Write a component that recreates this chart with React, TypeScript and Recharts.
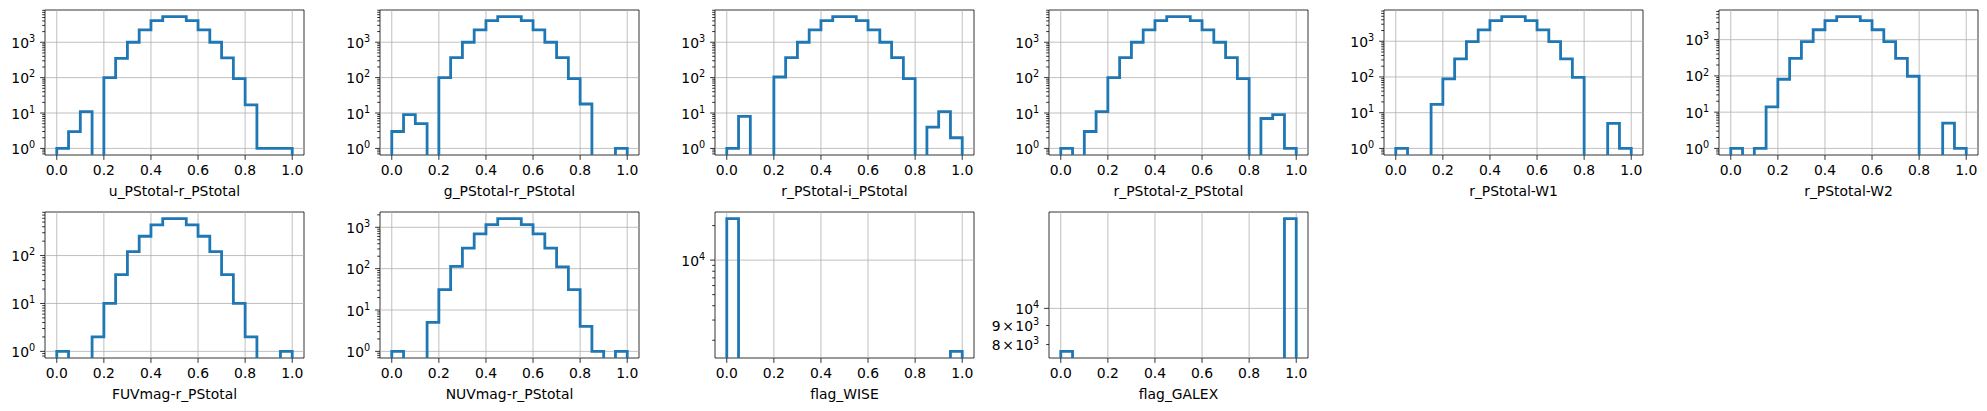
import React from 'react';
import { ComposedChart, Line, XAxis, YAxis, ReferenceLine, ReferenceArea } from 'recharts';

// ---------- data ----------
const BIN_EDGES = [0, 0.05, 0.1, 0.15, 0.2, 0.25, 0.3, 0.35, 0.4, 0.45, 0.5, 0.55, 0.6, 0.65, 0.7, 0.75, 0.8, 0.85, 0.9, 0.95, 1.0];
const X_TICKS = [0, 0.2, 0.4, 0.6, 0.8, 1.0];
const X_TICK_LABELS = ['0.0', '0.2', '0.4', '0.6', '0.8', '1.0'];

const U_R = [1, 3, 11, 0, 100, 352, 1000, 2230, 4100, 5320, 5320, 4100, 2230, 1000, 360, 94, 17, 1, 1, 1];
const G_R = [3, 9, 5, 0, 100, 365, 1000, 2230, 4100, 5300, 5300, 4100, 2230, 1000, 365, 94, 18, 0, 0, 1];
const R_I = [1, 8, 0, 0, 104, 365, 1000, 2230, 4100, 5300, 5300, 4100, 2230, 1000, 365, 94, 0, 4, 11, 2];
const R_Z = [1, 0, 3, 11, 100, 365, 1000, 2230, 4100, 5300, 5300, 4100, 2230, 1000, 365, 94, 0, 7, 9, 1];
const R_W1 = [1, 0, 0, 17, 88, 320, 970, 2080, 3790, 4900, 4900, 3790, 2080, 970, 323, 98, 0, 0, 5, 1];
const R_W2 = [1, 0, 1, 14, 81, 303, 882, 1875, 3370, 4330, 4330, 3370, 1875, 882, 303, 98, 0, 0, 5, 1];
const FUV_R = [1, 0, 0, 2, 10, 40, 121, 253, 436, 590, 590, 436, 253, 121, 40, 10, 2, 0, 0, 1];
const NUV_R = [1, 0, 0, 5, 31, 114, 313, 692, 1160, 1620, 1620, 1160, 692, 313, 110, 31, 4, 1, 0, 1];
const FLAG_WISE = [23000, 0, 0, 0, 0, 0, 0, 0, 0, 0, 0, 0, 0, 0, 0, 0, 0, 0, 0, 1600];
const FLAG_GALEX = [7670, 0, 0, 0, 0, 0, 0, 0, 0, 0, 0, 0, 0, 0, 0, 0, 0, 0, 0, 17400];

const PANEL_TITLES = [
  'u_PStotal-r_PStotal', 'g_PStotal-r_PStotal', 'r_PStotal-i_PStotal', 'r_PStotal-z_PStotal',
  'r_PStotal-W1', 'r_PStotal-W2', 'FUVmag-r_PStotal', 'NUVmag-r_PStotal', 'flag_WISE', 'flag_GALEX',
];
const PANEL_COUNTS = [U_R, G_R, R_I, R_Z, R_W1, R_W2, FUV_R, NUV_R, FLAG_WISE, FLAG_GALEX];
const LOG_MULTIPLIERS = [1, 2, 3, 4, 5, 6, 7, 8, 9];

// ---------- style / layout ----------
const BLUE = '#1f77b4';
const GRID = '#b0b0b0';
const FS = 13.9;
const SUP_FS = 9.7;
const PLOT_W = 259;
const COL_X0 = 45;
const COL_STEP = 334.8;
const ROW_TOP = [10, 212.4];
const ROW_H = [145, 146];
const Y_AXIS_W = 60;
const X_AXIS_H = 48;
const M = { top: 5, right: 5, left: 5, bottom: 2 };

type TickMeta = { major: boolean; mant: number; exp: number; labeled: boolean };

function Panel({ title, counts, left, top, plotH }: { title: string; counts: number[]; left: number; top: number; plotH: number }) {
  const positive = counts.filter((c) => c > 0);
  const lmin = Math.log10(Math.min(...positive));
  const lmax = Math.log10(Math.max(...positive));
  const span = lmax - lmin;
  const lo = Math.pow(10, lmin - 0.05 * span);
  const hi = Math.pow(10, lmax + 0.05 * span);
  const floorVal = lo / 1000;

  const data: { x: number; y: number }[] = [{ x: BIN_EDGES[0], y: floorVal }];
  counts.forEach((c, i) => data.push({ x: BIN_EDGES[i], y: c > 0 ? c : floorVal }));
  data.push({ x: BIN_EDGES[BIN_EDGES.length - 1], y: floorVal });

  const decSpan = Math.log10(hi) - Math.log10(lo);
  const yTicks: number[] = [];
  const meta = new Map<number, TickMeta>();
  for (let k = Math.floor(Math.log10(lo)); k <= Math.ceil(Math.log10(hi)); k++) {
    for (const m of LOG_MULTIPLIERS) {
      const v = m * Math.pow(10, k);
      if (v >= lo && v <= hi) {
        yTicks.push(v);
        meta.set(v, { major: m === 1, mant: m, exp: k, labeled: m === 1 || decSpan < 0.4 });
      }
    }
  }
  const majors = yTicks.filter((v) => meta.get(v)!.major);

  const YTick = (props: any) => {
    const { x, y, payload } = props;
    const t = meta.get(payload.value);
    if (!t) return <g />;
    const len = t.major ? 4.9 : 2.8;
    return (
      <g>
        <line x1={x - len} x2={x} y1={y} y2={y} stroke="#000" strokeWidth={0.8} />
        {t.labeled && (
          <text x={x - 9.8} y={y + 5.5} textAnchor="end" fontSize={FS} fill="#000">
            {t.major ? (
              <tspan>10</tspan>
            ) : (
              <>
                <tspan>{t.mant}</tspan>
                <tspan dx={1.5}>×</tspan>
                <tspan dx={1.5}>10</tspan>
              </>
            )}
            <tspan dy={-5.8} fontSize={SUP_FS}>{String(t.exp)}</tspan>
          </text>
        )}
      </g>
    );
  };

  const XTick = (props: any) => {
    const { x, y, index } = props;
    return (
      <g>
        <line x1={x} x2={x} y1={y} y2={y + 4.9} stroke="#000" strokeWidth={0.8} />
        <text x={x} y={y + 20.4} textAnchor="middle" fontSize={FS} fill="#000">{X_TICK_LABELS[index]}</text>
      </g>
    );
  };

  const width = M.left + Y_AXIS_W + PLOT_W + M.right;
  const height = M.top + plotH + X_AXIS_H + M.bottom;

  return (
    <div style={{ position: 'absolute', left: left - Y_AXIS_W - M.left, top: top - M.top, width, height }}>
      <ComposedChart width={width} height={height} data={data} margin={M}>
        <XAxis
          type="number"
          dataKey="x"
          domain={[-0.05, 1.05]}
          allowDataOverflow
          ticks={X_TICKS}
          interval={0}
          tick={XTick}
          tickLine={false}
          axisLine={false}
          tickSize={0}
          tickMargin={0}
          height={X_AXIS_H}
          label={{ value: title, position: 'insideBottom', offset: 7, fontSize: FS, fill: '#000' }}
        />
        <YAxis
          type="number"
          scale="log"
          domain={[lo, hi]}
          allowDataOverflow
          ticks={yTicks}
          interval={0}
          tick={YTick}
          tickLine={false}
          axisLine={false}
          tickSize={0}
          tickMargin={0}
          width={Y_AXIS_W}
        />
        {X_TICKS.map((v) => (
          <ReferenceLine key={'gx' + v} x={v} stroke={GRID} strokeWidth={0.8} />
        ))}
        {majors.map((v) => (
          <ReferenceLine key={'gy' + v} y={v} stroke={GRID} strokeWidth={0.8} />
        ))}
        <Line
          dataKey="y"
          type="stepAfter"
          stroke={BLUE}
          strokeWidth={2.8}
          dot={false}
          activeDot={false}
          isAnimationActive={false}
        />
        <ReferenceArea x1={-0.05} x2={1.05} y1={lo} y2={hi} fill="none" stroke="#000" strokeWidth={0.8} ifOverflow="visible" />
      </ComposedChart>
    </div>
  );
}

export default function App() {
  return (
    <div
      style={{
        position: 'absolute',
        left: 0,
        top: 0,
        width: 1987,
        height: 411,
        background: '#fff',
        fontFamily: '"DejaVu Sans", sans-serif',
        overflow: 'hidden',
      }}
    >
      {PANEL_TITLES.map((title, i) => {
        const row = i < 6 ? 0 : 1;
        const col = row === 0 ? i : i - 6;
        return (
          <Panel
            key={title}
            title={title}
            counts={PANEL_COUNTS[i]}
            left={COL_X0 + col * COL_STEP}
            top={ROW_TOP[row]}
            plotH={ROW_H[row]}
          />
        );
      })}
    </div>
  );
}
